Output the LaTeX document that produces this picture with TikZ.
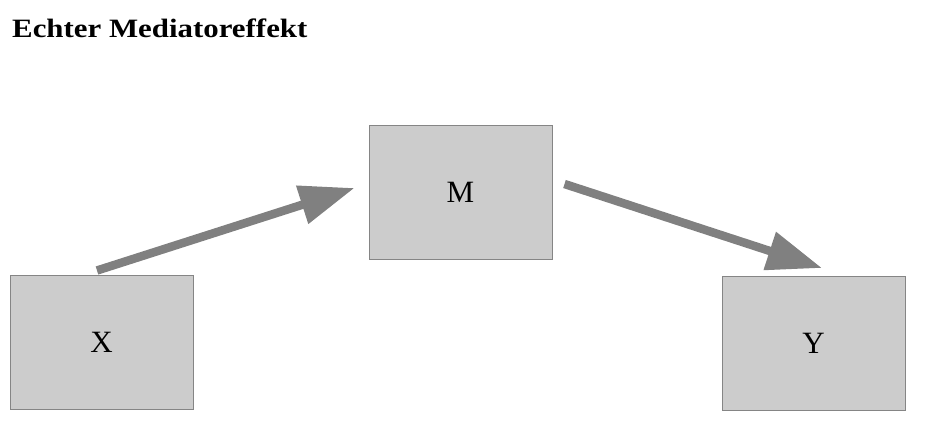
\documentclass[tikz,border=0pt]{standalone}
\usepackage{fontspec}
\setmainfont{Liberation Serif}
\usetikzlibrary{arrows.meta}
\definecolor{boxfill}{HTML}{CCCCCC}
\definecolor{boxline}{HTML}{858585}
\definecolor{arrowgray}{HTML}{808080}
\begin{document}
\begin{tikzpicture}[x=1pt,y=-1pt,
  varbox/.style={draw=boxline, line width=1pt, fill=boxfill, minimum width=183pt, minimum height=134pt, inner sep=0pt, font=\fontsize{31}{31}\selectfont},
  effect/.style={draw=arrowgray, line width=8.5pt, -{Triangle[length=55pt,width=38pt]}}]
\useasboundingbox (0,0) rectangle (934,421);
\node[anchor=base west, font=\bfseries\fontsize{26.5}{26.5}\selectfont, inner sep=0pt] (title) at (12,37) {\scalebox{1.165}[1]{Echter Mediatoreffekt}};
\node[varbox] (X) at (101.5,342) {X};
\node[varbox] (M) at (460.5,192) {M};
\node[varbox] (Y) at (813.5,343.5) {Y};
\draw[effect] ([xshift=-4.5pt,yshift=4pt]X.north) -- ([xshift=-14pt,yshift=4pt]M.west);
\draw[effect] ([xshift=12pt,yshift=8pt]M.east) -- ([xshift=8.5pt,yshift=8pt]Y.north);
\end{tikzpicture}
\end{document}
